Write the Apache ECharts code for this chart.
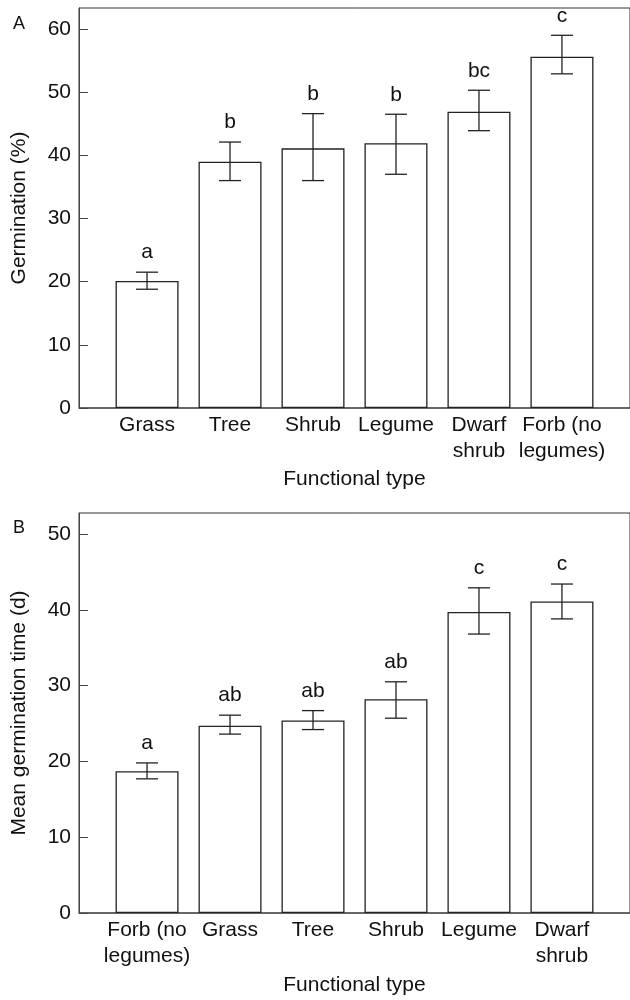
<!DOCTYPE html>
<html><head><meta charset="utf-8">
<script src="https://cdn.jsdelivr.net/npm/echarts@6/dist/echarts.min.js"></script>
<style>html,body{margin:0;padding:0;background:#fff}#c{width:630px;height:1000px}</style>
</head><body><div id="c"></div>
<script>
const catsA = ['Grass', 'Tree', 'Shrub', 'Legume', 'Dwarf\nshrub', 'Forb (no\nlegumes)'];
const meanA = [20.1, 39.0, 41.1, 41.9, 46.9, 55.6];
const lowA  = [18.8, 36.0, 36.0, 37.0, 43.9, 52.9];
const highA = [21.5, 42.1, 46.6, 46.5, 50.3, 59.0];
const letA  = ['a', 'b', 'b', 'b', 'bc', 'c'];
const ticksA = [0, 10, 20, 30, 40, 50, 60];

const catsB = ['Forb (no\nlegumes)', 'Grass', 'Tree', 'Shrub', 'Legume', 'Dwarf\nshrub'];
const meanB = [18.7, 24.7, 25.4, 28.2, 39.7, 41.1];
const lowB  = [17.7, 23.6, 24.2, 25.7, 36.8, 38.8];
const highB = [19.8, 26.1, 26.7, 30.5, 42.9, 43.4];
const letB  = ['a', 'ab', 'ab', 'ab', 'c', 'c'];
const ticksB = [0, 10, 20, 30, 40, 50];

const FF = '"Liberation Sans", Arial, Helvetica, sans-serif';
const TXT = '#111';
const LINE = '#222';
const idx = [0, 1, 2, 3, 4, 5];

function errItem(lets) {
  return function (params, api) {
    const x = api.value(0), lo = api.value(1), hi = api.value(2);
    const pHi = api.coord([x, hi]);
    const pLo = api.coord([x, lo]);
    const w = 11;
    const st = { stroke: LINE, lineWidth: 1.3 };
    return {
      type: 'group',
      children: [
        { type: 'line', shape: { x1: pHi[0], y1: pHi[1], x2: pLo[0], y2: pLo[1] }, style: st },
        { type: 'line', shape: { x1: pHi[0] - w, y1: pHi[1], x2: pHi[0] + w, y2: pHi[1] }, style: st },
        { type: 'line', shape: { x1: pLo[0] - w, y1: pLo[1], x2: pLo[0] + w, y2: pLo[1] }, style: st },
        { type: 'text', style: { text: lets[params.dataIndex], x: pHi[0], y: pHi[1] - 9,
          align: 'center', verticalAlign: 'bottom', fontSize: 21, fontFamily: FF, fill: TXT } }
      ]
    };
  };
}

function xAx(gi, cats, gap) {
  return {
    gridIndex: gi, type: 'value', min: -0.82, max: 5.82,
    name: 'Functional type', nameLocation: 'middle', nameGap: gap,
    nameTextStyle: { fontSize: 21, fontFamily: FF, color: TXT },
    axisLine: { show: true, onZero: false, lineStyle: { color: '#555', width: 1.5 } },
    axisTick: { show: false },
    splitLine: { show: false },
    axisLabel: { customValues: idx, formatter: v => cats[Math.round(v)] || '',
      fontSize: 21, fontFamily: FF, color: TXT, lineHeight: 26, margin: 4, align: 'center' }
  };
}
function yAx(gi, max, ticks, name) {
  return {
    gridIndex: gi, type: 'value', min: 0, max: max,
    name: name, nameLocation: 'middle', nameGap: 49,
    nameTextStyle: { fontSize: 21, fontFamily: FF, color: TXT },
    axisLine: { show: true, onZero: false, lineStyle: { color: '#444', width: 1 } },
    axisTick: { show: true, inside: true, length: 9, customValues: ticks, lineStyle: { color: '#444', width: 1 } },
    splitLine: { show: false },
    axisLabel: { customValues: ticks, fontSize: 21, fontFamily: FF, color: TXT, margin: 8 }
  };
}

const chart = echarts.init(document.getElementById('c'), null, { renderer: 'canvas' });
chart.setOption({
  backgroundColor: '#fff',
  animation: false,
  title: [
    { text: 'A', left: 13, top: 15, padding: 0, textStyle: { fontSize: 18, fontWeight: 'normal', fontFamily: FF, color: TXT } },
    { text: 'B', left: 13, top: 519, padding: 0, textStyle: { fontSize: 18, fontWeight: 'normal', fontFamily: FF, color: TXT } }
  ],
  grid: [
    { left: 79, top: 8, right: -4, height: 400, show: true, borderColor: '#333', borderWidth: 1, backgroundColor: 'transparent' },
    { left: 79, top: 513, right: -4, height: 400, show: true, borderColor: '#333', borderWidth: 1, backgroundColor: 'transparent' }
  ],
  xAxis: [xAx(0, catsA, 61), xAx(1, catsB, 62)],
  yAxis: [yAx(0, 63.32, ticksA, 'Germination (%)'), yAx(1, 52.77, ticksB, 'Mean germination time (d)')],
  series: [
    { type: 'bar', xAxisIndex: 0, yAxisIndex: 0, barWidth: 63,
      data: meanA.map((v, i) => [i, v]),
      itemStyle: { color: '#fff', borderColor: LINE, borderWidth: 1.3 } },
    { type: 'custom', xAxisIndex: 0, yAxisIndex: 0, renderItem: errItem(letA), clip: false, z: 5,
      encode: { x: 0, y: [1, 2] },
      data: idx.map(i => [i, lowA[i], highA[i]]) },
    { type: 'bar', xAxisIndex: 1, yAxisIndex: 1, barWidth: 63,
      data: meanB.map((v, i) => [i, v]),
      itemStyle: { color: '#fff', borderColor: LINE, borderWidth: 1.3 } },
    { type: 'custom', xAxisIndex: 1, yAxisIndex: 1, renderItem: errItem(letB), clip: false, z: 5,
      encode: { x: 0, y: [1, 2] },
      data: idx.map(i => [i, lowB[i], highB[i]]) }
  ]
});
</script>
</body></html>
